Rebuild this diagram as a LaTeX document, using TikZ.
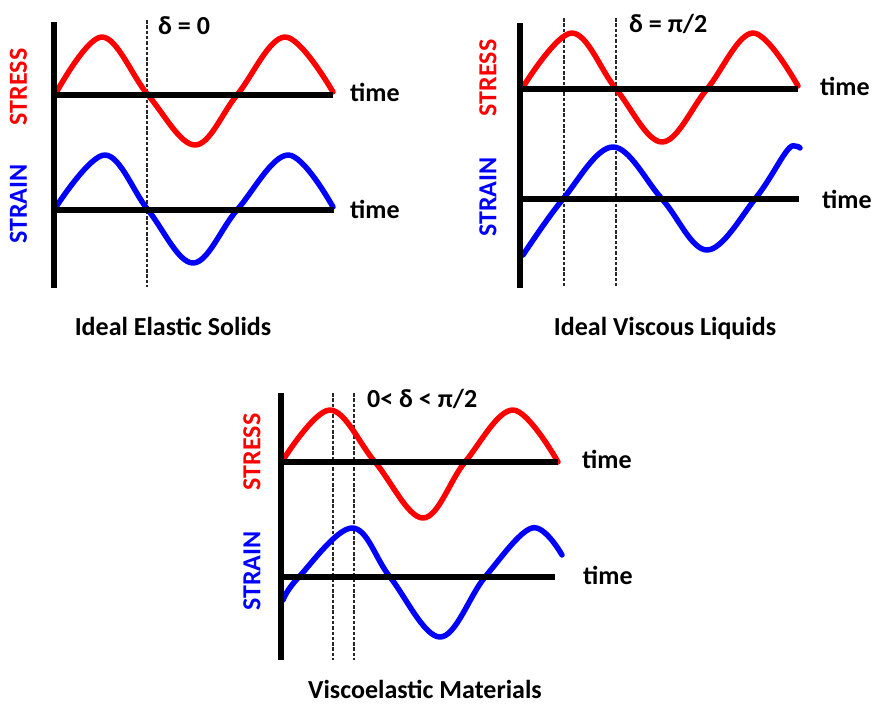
\documentclass[tikz,border=0pt]{standalone}
\usepackage{fontspec}
\setmainfont{Carlito}
\begin{document}
\begin{tikzpicture}[x=1pt,y=-1pt,
  axis/.style={line width=5.5pt, black},
  curve/.style={line width=5.5pt, line cap=round, line join=round},
  stresscurve/.style={curve, red},
  straincurve/.style={curve, blue},
  guide/.style={line width=1.3pt, dash pattern=on 3.5pt off 1.8pt, black!85},
  lbl/.style={font=\fontsize{26}{30}\selectfont\bfseries, inner sep=0pt},
  timelbl/.style={lbl, anchor=base west},
  deltalbl/.style={lbl, anchor=base west},
  title/.style={lbl, anchor=base},
  stresslbl/.style={lbl, red, rotate=90},
  strainlbl/.style={lbl, blue, rotate=90}]
\useasboundingbox (0,0) rectangle (872,704);

% ---------- Panel 1: Ideal Elastic Solids ----------
\draw[guide] (147,20) -- (147,287);
\draw[stresscurve] plot[smooth, tension=0.6] coordinates {(56,93) (102,37) (148,95) (195,145) (237,95) (285,37) (333,92)};
\draw[straincurve] plot[smooth, tension=0.6] coordinates {(56,207) (105,155) (148,210) (193,263) (237,210) (288,155) (333,207)};
\draw[axis] (54,22) -- (54,288);
\draw[axis] (54,95) -- (333,95);
\draw[axis] (54,210) -- (334,210);
\node[stresslbl] (s1) at (18.5,87) {STRESS};
\node[strainlbl] (e1) at (18.5,204) {STRAIN};
\node[timelbl] (t1a) at (350,101) {time};
\node[timelbl] (t1b) at (350,218) {time};
\node[deltalbl] (d1) at (158,34) {δ = 0};
\node[title] (n1) at (173,335) {Ideal Elastic Solids};

% ---------- Panel 2: Ideal Viscous Liquids ----------
\draw[guide] (564,18) -- (564,286);
\draw[guide] (616,18) -- (616,286);
\draw[stresscurve] plot[smooth, tension=0.6] coordinates {(523,87) (572,33) (616,89) (662,142) (707,89) (753,33) (798,86)};
\draw[straincurve] plot[smooth, tension=0.6] coordinates {(523,255) (563,199) (613,147) (662,199) (707,250) (755,199) (786,152) (795,146) (800,148)};
\draw[axis] (520,23) -- (520,288);
\draw[axis] (520,89) -- (798,89);
\draw[axis] (520,199) -- (799,199);
\node[stresslbl] (s2) at (488,78) {STRESS};
\node[strainlbl] (e2) at (488,197) {STRAIN};
\node[timelbl] (t2a) at (820,95) {time};
\node[timelbl] (t2b) at (822,208) {time};
\node[deltalbl] (d2) at (629,32) {δ = π/2};
\node[title] (n2) at (665,335) {Ideal Viscous Liquids};

% ---------- Panel 3: Viscoelastic Materials ----------
\draw[guide] (333,393) -- (333,660);
\draw[guide] (354,393) -- (354,660);
\draw[stresscurve] plot[smooth, tension=0.6] coordinates {(283,460) (330,410) (375,462) (423,518) (465,462) (513,410) (558,462)};
\draw[straincurve] plot[smooth, tension=0.6] coordinates {(283,600) (298,578) (352,528) (390,577) (440,637) (485,577) (532,528) (562,555)};
\draw[axis] (281,393) -- (281,660);
\draw[axis] (281,462) -- (558,462);
\draw[axis] (281,577) -- (555,577);
\node[stresslbl] (s3) at (252,452) {STRESS};
\node[strainlbl] (e3) at (252,571) {STRAIN};
\node[timelbl] (t3a) at (582,468) {time};
\node[timelbl] (t3b) at (583,584) {time};
\node[deltalbl] (d3) at (367,407) {0< δ < π/2};
\node[title] (n3) at (425,698) {Viscoelastic Materials};
\end{tikzpicture}
\end{document}
